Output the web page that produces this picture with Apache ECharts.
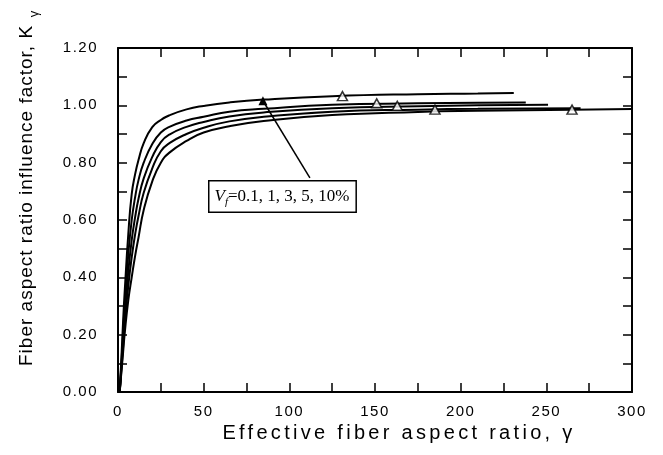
<!DOCTYPE html>
<html>
<head>
<meta charset="utf-8">
<script src="https://cdn.jsdelivr.net/npm/echarts@6/dist/echarts.min.js"></script>
<style>
  html, body { margin: 0; padding: 0; background: #fff; }
  #chart { width: 663px; height: 455px; }
</style>
</head>
<body>
<div id="chart"></div>
<script>
// Fiber aspect ratio influence factor K_gamma vs. effective aspect ratio gamma,
// one curve per fiber volume fraction.
const volumeFractions = ['0.1%', '1%', '3%', '5%', '10%'];

const gamma1  = [1, 2, 3, 4, 6, 8, 10, 12, 15, 20, 25, 30, 40, 50, 65, 85, 125, 175, 210, 231];
const kGamma1 = [0, 0.12, 0.25, 0.36, 0.55, 0.69, 0.76, 0.81, 0.868, 0.924, 0.949, 0.965, 0.986, 0.998, 1.010, 1.020, 1.032, 1.039, 1.041, 1.043];

const gamma2  = [1, 2, 3, 4, 6, 8, 10, 12, 15, 20, 25, 30, 40, 50, 65, 85, 125, 175, 210, 238];
const kGamma2 = [0, 0.10, 0.21, 0.31, 0.48, 0.60, 0.68, 0.74, 0.80, 0.865, 0.905, 0.925, 0.947, 0.960, 0.978, 0.988, 1.002, 1.007, 1.009, 1.010];

const gamma3  = [1, 2, 3, 4, 6, 8, 10, 12, 15, 20, 25, 30, 40, 50, 65, 85, 125, 175, 210, 251];
const kGamma3 = [0, 0.09, 0.18, 0.27, 0.42, 0.53, 0.61, 0.675, 0.745, 0.82, 0.872, 0.898, 0.925, 0.942, 0.961, 0.975, 0.990, 0.997, 1.000, 1.002];

const gamma4  = [1, 2, 3, 4, 6, 8, 10, 12, 15, 20, 25, 30, 40, 50, 65, 85, 125, 175, 210, 270];
const kGamma4 = [0, 0.08, 0.16, 0.24, 0.37, 0.47, 0.55, 0.615, 0.695, 0.78, 0.84, 0.868, 0.90, 0.922, 0.944, 0.960, 0.978, 0.985, 0.988, 0.990];

const gamma5  = [1, 2, 3, 4, 6, 8, 10, 12, 15, 20, 25, 30, 40, 50, 65, 85, 125, 175, 210, 265, 300];
const kGamma5 = [0, 0.07, 0.14, 0.21, 0.32, 0.40, 0.475, 0.54, 0.635, 0.735, 0.80, 0.835, 0.876, 0.905, 0.927, 0.945, 0.966, 0.977, 0.981, 0.985, 0.987];

// Measured points (open triangles)
const testGamma = [131, 151, 163, 185, 265];
const testK     = [1.032, 1.007, 0.998, 0.985, 0.985];

// Tick labels
const xTickLabels = ['0', '50', '100', '150', '200', '250', '300'];
const yTickLabels = ['0.00', '0.20', '0.40', '0.60', '0.80', '1.00', '1.20'];

// Helvetica-style tracking for the sans-serif axis text, keyed by font size.
(function () {
  const proto = CanvasRenderingContext2D.prototype;
  const spacing = { '20': '3.3px', '19': '1px', '15': '1.5px' };
  const fill = proto.fillText;
  proto.fillText = function (text, x, y, maxWidth) {
    if ('letterSpacing' in this) {
      const f = this.font || '';
      let ls = '0px';
      if (!/Serif/.test(f)) {
        const m = f.match(/(\d+(?:\.\d+)?)px/);
        if (m && spacing[m[1]]) ls = spacing[m[1]];
      }
      this.letterSpacing = ls;
    }
    return maxWidth === undefined ? fill.call(this, text, x, y) : fill.call(this, text, x, y, maxWidth);
  };
})();

const SANS = "'Liberation Sans', Arial, Helvetica, sans-serif";
const SERIF = "'Liberation Serif', 'Times New Roman', serif";

function pairs(xs, ys) { return xs.map((x, i) => [x, ys[i]]); }

const curves = [
  pairs(gamma1, kGamma1),
  pairs(gamma2, kGamma2),
  pairs(gamma3, kGamma3),
  pairs(gamma4, kGamma4),
  pairs(gamma5, kGamma5)
];

const axisLine = { show: true, onZero: false, lineStyle: { color: '#000', width: 2 } };
const axisTick = { show: true, inside: true, length: 9, lineStyle: { color: '#000', width: 1.5 } };

// Arrow from the annotation box to the upper curve (data coordinates)
const arrowFrom = [112, 0.747];
const arrowTo = [84.6, 1.016];

const series = curves.map((data, i) => ({
  name: 'Vf=' + volumeFractions[i],
  type: 'line',
  data: data,
  symbol: 'none',
  smooth: 0.5,
  lineStyle: { color: '#000', width: 2 },
  z: 3,
  silent: true
}));

series[0].markLine = {
  silent: true,
  symbol: ['none', 'triangle'],
  symbolSize: 9,
  symbolRotate: 0,
  label: { show: false },
  lineStyle: { color: '#000', width: 1.5, type: 'solid' },
  data: [[{ coord: arrowFrom }, { coord: arrowTo }]]
};

series.push({
  name: 'test',
  type: 'scatter',
  data: pairs(testGamma, testK),
  symbol: 'triangle',
  symbolSize: [10, 9],
  itemStyle: { color: '#fff', borderColor: '#000', borderWidth: 1.5 },
  z: 5,
  silent: true
});

const chart = echarts.init(document.getElementById('chart'), null, { renderer: 'canvas' });

chart.setOption({
  animation: false,
  backgroundColor: '#fff',
  grid: { left: 118, right: 31, top: 48, bottom: 63, show: false },
  xAxis: [
    {
      type: 'value', min: 0, max: 300, interval: 25, position: 'bottom',
      axisLine: axisLine, axisTick: axisTick, splitLine: { show: false },
      axisLabel: {
        margin: 12, color: '#000', fontSize: 15, fontFamily: SANS,
        formatter: v => (v % 50 === 0 ? xTickLabels[v / 50] : '')
      }
    },
    {
      type: 'value', min: 0, max: 300, interval: 25, position: 'top',
      axisLine: axisLine, axisTick: axisTick, splitLine: { show: false },
      axisLabel: { show: false }
    }
  ],
  yAxis: [
    {
      type: 'value', min: 0, max: 1.2, interval: 0.1, position: 'left',
      axisLine: axisLine, axisTick: axisTick, splitLine: { show: false },
      axisLabel: {
        margin: 20, color: '#000', fontSize: 15, fontFamily: SANS,
        formatter: v => {
          const n = Math.round(v * 10);
          return n % 2 === 0 ? yTickLabels[n / 2] : '';
        }
      }
    },
    {
      type: 'value', min: 0, max: 1.2, interval: 0.1, position: 'right',
      axisLine: axisLine, axisTick: axisTick, splitLine: { show: false },
      axisLabel: { show: false }
    }
  ],
  series: series,
  graphic: [
    {
      type: 'text', x: 399, y: 433, silent: true,
      style: {
        text: 'Effective fiber aspect ratio, \u03B3',
        font: '20px ' + SANS, fill: '#000', align: 'center', verticalAlign: 'middle'
      }
    },
    {
      type: 'text', x: 27, y: 366, rotation: Math.PI / 2, silent: true,
      style: {
        text: 'Fiber aspect ratio influence factor, K',
        font: '19px ' + SANS, fill: '#000', align: 'left', verticalAlign: 'middle'
      }
    },
    {
      type: 'text', x: 34, y: 14, rotation: Math.PI / 2, silent: true,
      style: {
        text: '\u03B3',
        font: '13px ' + SANS, fill: '#000', align: 'center', verticalAlign: 'middle'
      }
    },
    {
      type: 'text', left: 208, top: 180, z: 10, silent: true,
      style: {
        text: '{v|V}{f|f}{n|=0.1, 1, 3, 5, 10%}',
        backgroundColor: '#fff',
        borderColor: '#000',
        borderWidth: 1.5,
        padding: [4, 6, 4, 5],
        rich: {
          v: { fontFamily: SERIF, fontStyle: 'italic', fontSize: 17, lineHeight: 22, verticalAlign: 'middle', fill: '#000', color: '#000' },
          f: { fontFamily: SERIF, fontStyle: 'italic', fontSize: 11, lineHeight: 11, verticalAlign: 'bottom', fill: '#000', color: '#000' },
          n: { fontFamily: SERIF, fontSize: 17, lineHeight: 22, verticalAlign: 'middle', fill: '#000', color: '#000' }
        }
      }
    }
  ]
});
</script>
</body>
</html>
